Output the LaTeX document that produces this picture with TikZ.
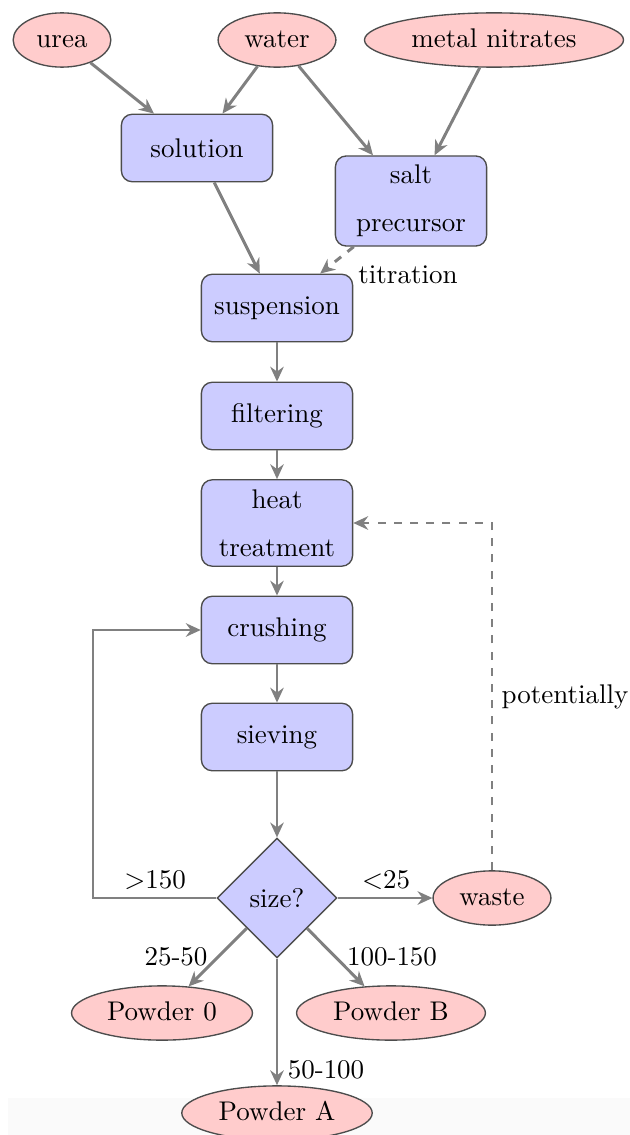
\documentclass[tikz,border=0pt]{standalone}
\usetikzlibrary{shapes.geometric,arrows.meta}
\begin{document}
\begin{tikzpicture}[x=0.3704pt,y=-0.3704pt,
  stepbox/.style={rectangle,rounded corners=4pt,draw=black!70,fill=blue!20,line width=0.5pt,
     minimum width=56pt,minimum height=25pt,align=center},
  tallbox/.style={stepbox,minimum height=32pt},
  inbox/.style={ellipse,draw=black!70,fill=red!20,line width=0.5pt,text height=1.5ex,text depth=.25ex},
  decide/.style={diamond,draw=black!70,fill=blue!20,line width=0.5pt,minimum width=44.4pt,minimum height=44.4pt,inner sep=0pt},
  arr/.style={draw=gray,line width=1.1pt,-{Stealth[length=5.5pt,width=5pt,inset=1.8pt]}},
  lbl/.style={inner sep=0pt}]
\useasboundingbox (0,0) rectangle (630,1135);
\fill[black!2] (8,1098) rectangle (630,1135);
% nodes
\node[inbox] (urea) at (62,40) {urea};
\node[inbox] (water) at (277,40) {water};
\node[inbox] (metal) at (494,40) {metal nitrates};
\node[stepbox] (solution) at (197,148) {solution};
\node[tallbox] (salt) at (411,201) {salt\\[5.8pt]precursor};
\node[stepbox] (susp) at (277,308) {suspension};
\node[stepbox] (filter) at (277,416) {filtering};
\node[tallbox] (heat) at (277,523) {heat\\[5.8pt]treatment};
\node[stepbox] (crush) at (277,630) {crushing};
\node[stepbox] (sieve) at (277,737) {sieving};
\node[decide] (size) at (277,898) {size?};
\node[inbox] (waste) at (492,898) {waste};
\node[inbox] (p0) at (162,1013) {Powder 0};
\node[inbox] (pB) at (391,1013) {Powder B};
\node[inbox] (pA) at (277,1113) {Powder A};
\coordinate (loopc) at (93,898);
% labels
\node[lbl] (ltit) at (408,275) {titration};
\node[lbl] (lpot) at (565,697) {potentially};
\node[lbl] (lgt) at (155,880) {$>$150};
\node[lbl] (llt) at (386,880) {$<$25};
\node[lbl] (l0) at (176,957) {25-50};
\node[lbl] (lB) at (392,957) {100-150};
\node[lbl] (lA) at (326,1070) {50-100};
% connectors
\draw[arr] (urea) -- (solution);
\draw[arr] (water) -- (solution);
\draw[arr] (water) -- (salt);
\draw[arr] (metal) -- (salt);
\draw[arr] (solution) -- (susp);
\draw[arr,dashed] (salt) -- (susp);
\draw[arr] (susp) -- (filter);
\draw[arr] (filter) -- (heat);
\draw[arr] (heat) -- (crush);
\draw[arr] (crush) -- (sieve);
\draw[arr] (sieve) -- (size);
\draw[arr] (size.west) -- (loopc) |- (crush.west);
\draw[arr] (size.east) -- (waste.west);
\draw[arr,dashed] (waste.north) |- (heat.east);
\draw[arr] (size) -- (p0);
\draw[arr] (size) -- (pB);
\draw[arr] (size.south) -- (pA.north);
\end{tikzpicture}
\end{document}
